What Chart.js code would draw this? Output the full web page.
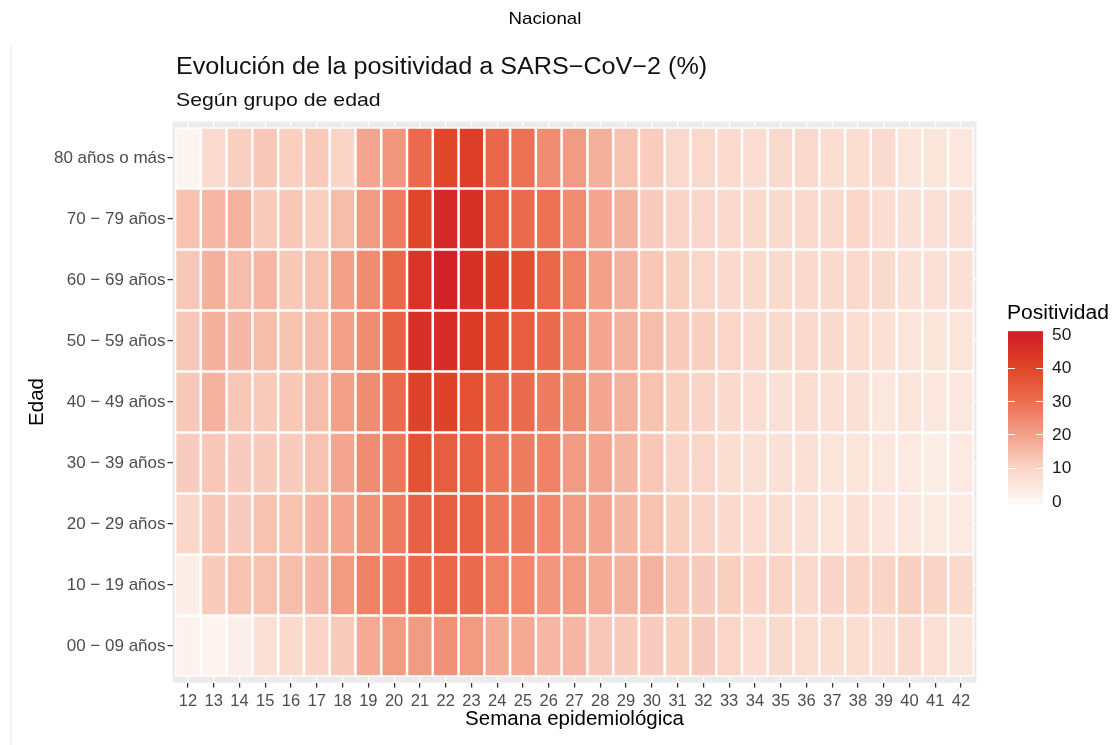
<!DOCTYPE html>
<html>
<head>
<meta charset="utf-8">
<script src="https://cdn.jsdelivr.net/npm/chart.js@4/dist/chart.umd.min.js"></script>
<style>
html,body{margin:0;padding:0;background:#fff;}
#wrap{width:1120px;height:745px;position:relative;}
</style>
</head>
<body>
<div id="wrap"><canvas id="c" width="1120" height="745"></canvas></div>
<script>
// ---- Data ----
const weeks = [12,13,14,15,16,17,18,19,20,21,22,23,24,25,26,27,28,29,30,31,32,33,34,35,36,37,38,39,40,41,42];
const ageGroups = ['00 − 09 años','10 − 19 años','20 − 29 años','30 − 39 años','40 − 49 años','50 − 59 años','60 − 69 años','70 − 79 años','80 años o más'];
const pos00_09 = [1.5,1,2.5,6.5,8.3,10,11.7,18,21,21,23,21,18,18,15.5,15.5,12.5,11.7,11.7,11,11.7,9.3,7.4,8.3,7.4,7.4,7.4,7.4,8.3,6.5,5.5];
const pos10_19 = [3,11.7,13.5,13.5,14.5,15.5,21,26,28,31.5,31.5,30.5,26,25,22,21,18,16.5,16.5,12.5,11.7,11,10,10,8.3,10,10,10,11,10,8.3];
const pos20_29 = [9.3,12.5,11.7,13.5,13.5,15.5,19,23,27,33,34,33,28,27,25,21,19,15.5,13.5,11,10,8.3,7.4,7.4,6.5,5.5,6.5,5.5,4.5,4,4];
const pos30_39 = [11.7,12.5,11.7,11.7,11.7,13.5,19,24,28,37,34,33,28,27,26,21,19,15.5,12.5,10,9.3,7.4,6.5,6.5,6.5,5.5,5.5,4.5,4,3,4];
const pos40_49 = [12.5,16.5,12.5,11.7,12.5,14.5,20,24,30.5,41,41,37,31.5,30.5,27,24,19,16.5,13.5,11,10,8.3,7.4,6.5,7.4,6.5,6.5,4.5,5.5,4.5,4.5];
const pos50_59 = [12.5,17,15.5,14.5,13.5,14.5,20,24,33,45.5,46.5,43,38,34,30.5,25,19,16.5,14.5,11.7,11,9.3,8.3,8.3,8.3,8.3,7.4,6.5,5.5,5.5,5.5];
const pos60_69 = [12.5,17,14.5,15.5,12.5,13.5,20,24,31.5,44.5,49.5,45.5,41,38,31.5,26,20,16.5,12.5,11,9.3,8.3,8.3,8.3,8.3,8.3,8.8,8.3,6.5,6.5,6.5];
const pos70_79 = [13.5,15.5,16.5,11.7,12.5,11,14.5,21,27,40,47.5,45.5,34,30.5,29.5,24,19,16.5,11.7,10,9.3,8.3,8.3,8.3,8.3,8.3,9.3,7.4,6.5,6.5,6.5];
const pos80plus = [1,8,11,12.5,11,12,10,19,22,31,40,42,31.5,29.5,24,21,17,13.5,11.5,9,9,8,7.5,8.5,8.5,7.5,7.5,8,5.5,5.5,5];
const legendTicks = [0,10,20,30,40,50];

const series = [pos00_09,pos10_19,pos20_29,pos30_39,pos40_49,pos50_59,pos60_69,pos70_79,pos80plus];

// ---- colour scale ----
const stops = [
  [0,[253,247,243]],[10,[250,212,198]],[20,[243,160,137]],
  [30,[236,109,80]],[40,[224,70,40]],[50,[208,31,38]]
];
function colorFor(v){
  v = Math.max(0, Math.min(50, v));
  for (let k=0;k<stops.length-1;k++){
    const [a,ca]=stops[k],[b,cb]=stops[k+1];
    if (v<=b){
      const t=(v-a)/(b-a);
      const c=ca.map((x,i)=>Math.round(x+(cb[i]-x)*t));
      return 'rgb('+c.join(',')+')';
    }
  }
  return 'rgb(208,31,38)';
}

const FONT = '"Liberation Sans", Arial, sans-serif';

const datasets = series.map((vals,i)=>({
  label: ageGroups[i],
  data: weeks.map(w=>({x:w, y:[i-0.5, i+0.5]})),
  backgroundColor: vals.map(colorFor),
  borderColor: '#ffffff',
  borderWidth: 1.6,
  borderSkipped: false,
  barPercentage: 1,
  categoryPercentage: 1,
  grouped: false
}));

function stretchText(ctx, text, x, y, sx){
  ctx.save();
  ctx.translate(x, y);
  ctx.scale(sx, 1);
  ctx.fillText(text, 0, 0);
  ctx.restore();
}

const decor = {
  id:'decor',
  beforeDraw(chart){
    const {ctx, chartArea:a} = chart;
    ctx.save();
    ctx.fillStyle='#ebebeb';
    ctx.fillRect(a.left, a.top, a.right-a.left, a.bottom-a.top);
    ctx.strokeStyle='#efefef'; ctx.lineWidth=1.5;
    ctx.beginPath(); ctx.moveTo(11,45); ctx.lineTo(11,745); ctx.stroke();
    ctx.restore();
  },
  afterDraw(chart){
    const {ctx} = chart;
    ctx.save();
    ctx.fillStyle='#000';
    ctx.textBaseline='middle';
    ctx.textAlign='center';
    ctx.font='17px "Liberation Sans Narrow", "Liberation Sans", Arial, sans-serif';
    stretchText(ctx, 'Nacional', 545, 19, 1.1);
    ctx.textAlign='left';
    ctx.fillStyle='#111';
    ctx.font='23.5px '+FONT;
    stretchText(ctx, 'Evolución de la positividad a SARS−CoV−2 (%)', 176, 68, 1.07);
    ctx.font='19px '+FONT;
    stretchText(ctx, 'Según grupo de edad', 176, 101, 1.12);
    // legend
    const bx=1008, bw=35, y0=501, y50=334.5;
    const yOf = v => y0 + (y50-y0)*v/50;
    const top=yOf(51), bot=yOf(-1);
    const g = ctx.createLinearGradient(0, yOf(0), 0, yOf(50));
    stops.forEach(([v,c])=>g.addColorStop(v/50,'rgb('+c.join(',')+')'));
    ctx.fillStyle=g;
    ctx.fillRect(bx, top, bw, bot-top);
    ctx.strokeStyle='#ffffff'; ctx.lineWidth=1;
    legendTicks.forEach(v=>{
      if(v===0||v===50) return;
      const y=Math.round(yOf(v))+0.5;
      ctx.beginPath(); ctx.moveTo(bx,y); ctx.lineTo(bx+7,y); ctx.moveTo(bx+bw-7,y); ctx.lineTo(bx+bw,y); ctx.stroke();
    });
    ctx.fillStyle='#1a1a1a';
    ctx.font='16.5px '+FONT;
    legendTicks.forEach(v=>stretchText(ctx, String(v), 1052, yOf(v)+1, 1.05));
    ctx.fillStyle='#000';
    ctx.font='19.5px '+FONT;
    stretchText(ctx, 'Positividad', 1007, 314, 1.08);
    ctx.restore();
  }
};

new Chart(document.getElementById('c'), {
  type:'bar',
  data:{datasets},
  options:{
    responsive:false,
    animation:false,
    devicePixelRatio:1,
    layout:{padding:{left:21,right:143.5,top:121.4,bottom:9.5}},
    plugins:{legend:{display:false},tooltip:{enabled:false}},
    scales:{
      x:{
        type:'linear', min:11.4, max:42.6, offset:false,
        afterBuildTicks:s=>{s.ticks=weeks.map(w=>({value:w}));},
        afterFit:s=>{s.height=52.9;},
        border:{display:false},
        grid:{offset:false,color:'#ffffff',lineWidth:1.2,tickColor:'#333333',tickLength:5,tickWidth:1.3},
        ticks:{autoSkip:false,maxRotation:0,padding:4,color:'#4d4d4d',font:{family:FONT,size:16.5},callback:v=>String(v)},
        title:{display:true,text:'Semana epidemiológica',color:'#000',font:{family:FONT,size:20.5},padding:{top:0,bottom:4}}
      },
      y:{
        type:'linear', min:-0.6, max:8.6, offset:false,
        afterBuildTicks:s=>{s.ticks=ageGroups.map((g,i)=>({value:i}));},
        afterFit:s=>{s.width=151.5;},
        border:{display:false},
        grid:{offset:false,color:'#ffffff',lineWidth:1.2,tickColor:'#333333',tickLength:5,tickWidth:1.3},
        ticks:{autoSkip:false,padding:2,color:'#4d4d4d',font:{family:FONT,size:17},callback:v=>ageGroups[v]},
        title:{display:true,text:'Edad',color:'#000',font:{family:FONT,size:20.5},padding:{top:4,bottom:0}}
      }
    }
  },
  plugins:[decor]
});
</script>
</body>
</html>
